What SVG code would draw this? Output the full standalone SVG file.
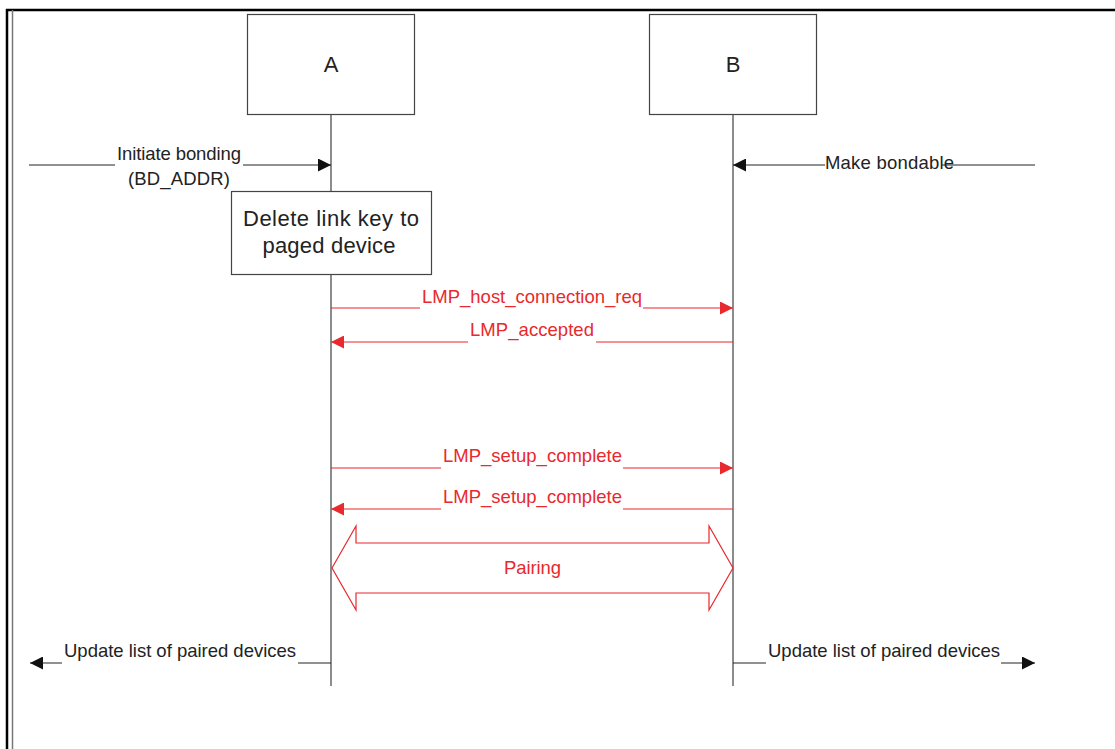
<svg xmlns="http://www.w3.org/2000/svg" width="1115" height="749" viewBox="0 0 1115 749">
<defs>
<style>
.box{fill:#fff;stroke:#444;stroke-width:1.2}
.life{stroke:#666;stroke-width:1.5;fill:none}
.blk{stroke:#222;stroke-width:1;fill:none}
.red{stroke:#e8292d;stroke-width:1.2;fill:none}
.t{font-family:"Liberation Sans",Arial,sans-serif;font-size:18.5px;fill:#222}
.tb{font-family:"Liberation Sans",Arial,sans-serif;font-size:22px;fill:#222}
.tr{font-family:"Liberation Sans",Arial,sans-serif;font-size:18.5px;fill:#e8292d}
</style>
<marker id="ab" markerUnits="userSpaceOnUse" markerWidth="13" markerHeight="13" refX="13" refY="6.5" orient="auto">
<path d="M0,0 L13,6.5 L0,13 z" fill="#111"/>
</marker>
<marker id="ar" markerUnits="userSpaceOnUse" markerWidth="13" markerHeight="13" refX="13" refY="6.5" orient="auto">
<path d="M0,0 L13,6.5 L0,13 z" fill="#e8292d"/>
</marker>
</defs>
<rect width="1115" height="749" fill="#fff"/>
<g id="frame">
<line x1="6" y1="10" x2="1115" y2="10" stroke="#000" stroke-width="2.5"/>
<line x1="7" y1="9" x2="7" y2="749" stroke="#000" stroke-width="2.5"/>
<line x1="12.5" y1="10" x2="12.5" y2="749" stroke="#777" stroke-width="1.5"/>
</g>
<g id="lifelines">
<line class="life" x1="331" y1="115" x2="331" y2="686"/>
<line class="life" x1="733" y1="115" x2="733" y2="686"/>
</g>
<g id="node-A">
<rect class="box" x="247.5" y="14.5" width="167" height="100"/>
<text class="tb" x="331" y="72" text-anchor="middle">A</text>
</g>
<g id="node-B">
<rect class="box" x="649.5" y="14.5" width="167" height="100"/>
<text class="tb" x="733" y="72" text-anchor="middle">B</text>
</g>
<g id="node-delete">
<rect class="box" x="231.5" y="191.5" width="200" height="83"/>
<text class="tb" x="331" y="226" text-anchor="middle" textLength="176" lengthAdjust="spacing">Delete link key to</text>
<text class="tb" x="329" y="253" text-anchor="middle" textLength="133" lengthAdjust="spacing">paged device</text>
</g>
<g id="connectors">
<line class="blk" x1="29" y1="165" x2="115" y2="165"/>
<line class="blk" x1="243" y1="165" x2="331" y2="165" marker-end="url(#ab)"/>
<line class="blk" x1="1035" y1="165" x2="942" y2="165"/>
<line class="blk" x1="825" y1="165" x2="733" y2="165" marker-end="url(#ab)"/>
<line class="red" x1="331" y1="308" x2="420" y2="308"/>
<line class="red" x1="643" y1="308" x2="733" y2="308" marker-end="url(#ar)"/>
<line class="red" x1="733" y1="342" x2="596" y2="342"/>
<line class="red" x1="468" y1="342" x2="331" y2="342" marker-end="url(#ar)"/>
<line class="red" x1="331" y1="468" x2="441" y2="468"/>
<line class="red" x1="623" y1="468" x2="733" y2="468" marker-end="url(#ar)"/>
<line class="red" x1="733" y1="509" x2="623" y2="509"/>
<line class="red" x1="441" y1="509" x2="331" y2="509" marker-end="url(#ar)"/>
<polygon class="red" points="332,568 356,526 356,543 709,543 709,526 733,568 709,610 709,593 356,593 356,610"/>
<line class="blk" x1="331" y1="663" x2="298" y2="663"/>
<line class="blk" x1="62" y1="663" x2="30" y2="663" marker-end="url(#ab)"/>
<line class="blk" x1="733" y1="663" x2="766" y2="663"/>
<line class="blk" x1="1001" y1="663" x2="1035" y2="663" marker-end="url(#ab)"/>
</g>
<g id="labels">
<text class="t" x="179" y="160" text-anchor="middle" textLength="124" lengthAdjust="spacing">Initiate bonding</text>
<text class="t" x="179" y="185" text-anchor="middle" textLength="102" lengthAdjust="spacing">(BD_ADDR)</text>
<text class="t" x="825" y="169" textLength="129" lengthAdjust="spacing">Make bondable</text>
<text class="tr" x="422" y="303" textLength="220" lengthAdjust="spacing">LMP_host_connection_req</text>
<text class="tr" x="470" y="336" textLength="124" lengthAdjust="spacing">LMP_accepted</text>
<text class="tr" x="443" y="462" textLength="179" lengthAdjust="spacing">LMP_setup_complete</text>
<text class="tr" x="443" y="503" textLength="179" lengthAdjust="spacing">LMP_setup_complete</text>
<text class="tr" x="532.5" y="574" text-anchor="middle" textLength="57" lengthAdjust="spacing">Pairing</text>
<text class="t" x="64" y="657" textLength="232" lengthAdjust="spacing">Update list of paired devices</text>
<text class="t" x="768" y="657" textLength="232" lengthAdjust="spacing">Update list of paired devices</text>
</g>
</svg>
